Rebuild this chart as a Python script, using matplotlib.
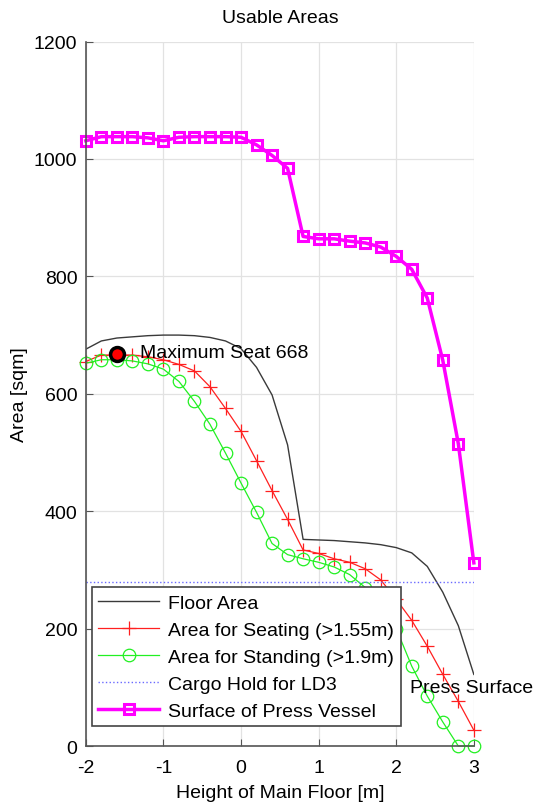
import numpy as np
import matplotlib.pyplot as plt

plt.rcParams['font.family'] = ['Liberation Sans', 'DejaVu Sans']
plt.rcParams['axes.unicode_minus'] = False

# Heights of main floor [m]
height = [-2.0, -1.8, -1.6, -1.4, -1.2, -1.0, -0.8, -0.6, -0.4, -0.2, 0.0, 0.2, 0.4,
          0.6, 0.8, 1.0, 1.2, 1.4, 1.6, 1.8, 2.0, 2.2, 2.4, 2.6, 2.8, 3.0]

floor_area = [676, 690, 695, 697, 699, 700, 700, 699, 696, 690, 677, 645, 598,
              513, 352, 351, 350, 348, 346, 343, 338, 329, 306, 262, 205, 122]
seating = [655, 666, 666, 666, 663, 658, 650, 639, 612, 575, 536, 486, 435,
           386, 334, 328, 319, 313, 302, 283, 250, 214, 170, 122, 76, 27]
standing = [652, 658, 658, 656, 651, 642, 621, 587, 548, 499, 448, 398, 345,
            326, 319, 313, 305, 292, 270, 240, 200, 136, 85, 41, 0, 0]
press_vessel = [1031, 1038, 1038, 1038, 1036, 1031, 1037, 1038, 1038, 1038, 1037, 1024, 1006,
                984, 868, 864, 864, 860, 857, 850, 834, 812, 763, 657, 515, 312]
cargo_ld3 = 280
max_seat_x, max_seat = -1.6, 668

fig = plt.figure(figsize=(5.33, 8.03), dpi=100)
ax = fig.add_axes([0.161, 0.0697, 0.728, 0.8773])

ax.plot(height, floor_area, color='#3a3a3a', lw=1.0, label='Floor Area')
ax.plot(height, seating, color='#ff2020', lw=0.9, marker='+', ms=10, mew=0.9,
        label='Area for Seating (>1.55m)', clip_on=False)
ax.plot(height, standing, color='#22f022', lw=0.9, marker='o', ms=9, mfc='none', mew=0.9,
        label='Area for Standing (>1.9m)', clip_on=False)
ax.axhline(cargo_ld3, color='#6a6aff', lw=1.0, ls=':', label='Cargo Hold for LD3')
ax.plot(height, press_vessel, color='#ff00ff', lw=2.5, marker='s', ms=7, mfc='none', mew=2.2,
        label='Surface of Press Vessel', clip_on=False)

ax.plot(max_seat_x, max_seat, 'o', ms=10, mfc='red', mec='black', mew=2.5, zorder=5)
ax.text(max_seat_x + 0.3, max_seat + 2, 'Maximum Seat %d' % max_seat, fontsize=14,
        va='center', ha='left')
ax.text(2.18, 100, 'Press Surface', fontsize=14, va='center', ha='left')

ax.set_xlim(-2, 3)
ax.set_ylim(0, 1200)
ax.set_xticks([-2, -1, 0, 1, 2, 3])
ax.set_yticks([0, 200, 400, 600, 800, 1000, 1200])
ax.tick_params(direction='in', length=5, labelsize=14, color='#555555')
ax.tick_params(axis='x', pad=9)
ax.tick_params(axis='y', pad=6)
ax.grid(True, color='#e2e2e2', lw=0.9)
ax.set_axisbelow(True)
for s in ['top', 'right']:
    ax.spines[s].set_visible(False)
for s in ['left', 'bottom']:
    ax.spines[s].set_color('#555555')
    ax.spines[s].set_linewidth(1.2)

ax.set_title('Usable Areas', fontsize=14, pad=14)
ax.set_xlabel('Height of Main Floor [m]', fontsize=14, labelpad=6)
ax.set_ylabel('Area [sqm]', fontsize=14)

leg = ax.legend(loc='lower left', bbox_to_anchor=(0.015, 0.028), borderaxespad=0,
                fontsize=14, fancybox=False, framealpha=1, edgecolor='#444444',
                handlelength=3.1, labelspacing=0.48, borderpad=0.35, handletextpad=0.5)
leg.get_frame().set_linewidth(1.2)

fig.savefig('out.png', dpi=100)
